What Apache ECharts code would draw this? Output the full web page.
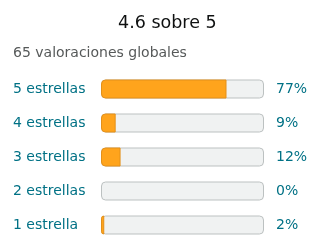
<!DOCTYPE html>
<html lang="es">
<head>
    <meta charset="UTF-8">
    <title>Valoraciones</title>
    <script src="https://cdn.jsdelivr.net/npm/echarts@6/dist/echarts.min.js"></script>
    <style>
        html, body { margin: 0; padding: 0; background: #fff; }
    </style>
</head>
<body>
<div id="box" style="width: 320px;height: 252px;"></div>
<script>
    // datos
    var categorias = ['5 estrellas', '4 estrellas', '3 estrellas', '2 estrellas', '1 estrella'];
    var porcentajes = [77, 9, 12, 0, 2];
    var fondo = [100, 100, 100, 100, 100];

    var myChart = echarts.init(document.getElementById("box"));
    var fuente = 'DejaVu Sans';
    var option = {
        animation: false,
        title: [{
            text: '4.6 sobre 5',
            left: 113,
            top: 9,
            textStyle: { fontFamily: fuente, fontSize: 17.5, fontWeight: 'normal', color: '#0f1111' }
        }, {
            text: '65 valoraciones globales',
            left: 8,
            top: 41,
            textStyle: { fontFamily: fuente, fontSize: 14, fontWeight: 'normal', color: '#565959' }
        }],
        grid: { left: 101, right: 56, top: 72, bottom: 10 },
        xAxis: { type: 'value', min: 0, max: 100, show: false },
        yAxis: {
            type: 'category',
            data: categorias,
            inverse: true,
            axisLine: { show: false },
            axisTick: { show: false },
            axisLabel: {
                align: 'left',
                margin: 88,
                fontFamily: fuente,
                fontSize: 14,
                color: '#007185'
            }
        },
        series: [{
            type: 'bar',
            data: fondo,
            barWidth: 19,
            barGap: '-100%',
            silent: true,
            itemStyle: { color: '#f0f2f2', borderColor: '#bcc1c1', borderWidth: 1, borderRadius: 4 },
            label: {
                show: true,
                position: 'right',
                distance: 12,
                fontFamily: fuente,
                fontSize: 14,
                color: '#007185',
                formatter: function (p) { return porcentajes[p.dataIndex] + '%'; }
            }
        }, {
            type: 'bar',
            // sin barra cuando el valor es 0
            data: porcentajes.map(function (v) { return v === 0 ? null : v; }),
            barWidth: 19,
            itemStyle: { color: '#ffa41c', borderColor: '#e3901a', borderWidth: 1, borderRadius: [4, 0, 0, 4] }
        }]
    };
    myChart.setOption(option);
</script>
</body>
</html>
